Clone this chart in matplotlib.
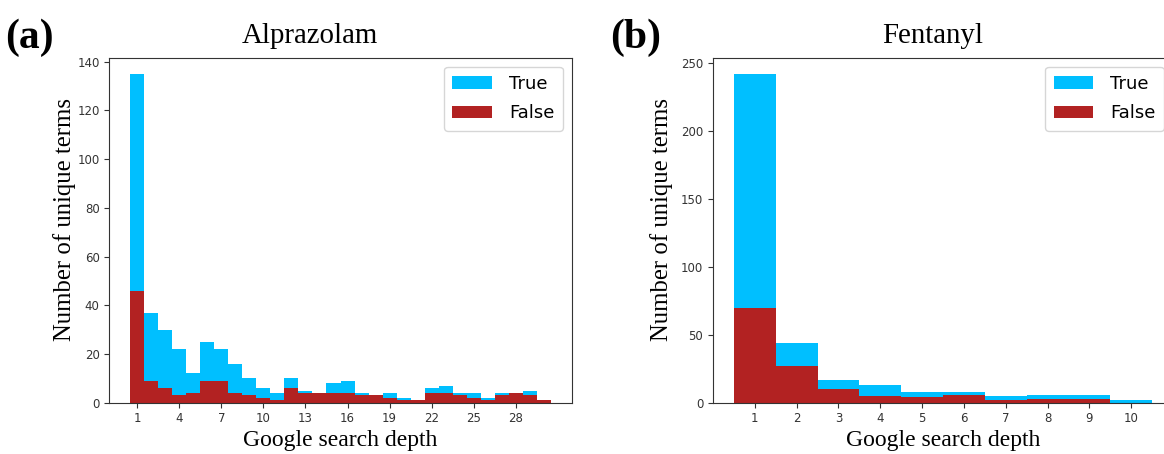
import matplotlib
matplotlib.use("Agg")
import matplotlib.pyplot as plt

# ---- data ----
alp_depth = list(range(1, 31))
alp_true = [135, 37, 30, 22, 12, 25, 22, 16, 10, 6, 4, 10, 5, 4, 8, 9, 4, 3, 4, 2,
            1, 6, 7, 4, 4, 2, 4, 4, 5, 1]
alp_false = [46, 9, 6, 3, 4, 9, 9, 4, 3, 2, 1, 6, 4, 4, 4, 4, 3, 3, 2, 1,
             1, 4, 4, 3, 2, 1, 3, 4, 3, 1]
alp_ticks = [1, 4, 7, 10, 13, 16, 19, 22, 25, 28]

fen_depth = list(range(1, 11))
fen_true = [242, 44, 17, 13, 8, 8, 5, 6, 6, 2]
fen_false = [70, 27, 10, 5, 4, 6, 2, 3, 3, 0]
fen_ticks = list(range(1, 11))

titles = ["Alprazolam", "Fentanyl"]
panel_labels = ["(a)", "(b)"]
xlabel = "Google search depth"
ylabel = "Number of unique terms"

BLUE = "#00BFFF"
RED = "#B22222"
SERIF = ["Liberation Serif", "DejaVu Serif"]

W, H = 1164, 454
fig = plt.figure(figsize=(W / 100, H / 100), dpi=100)

ax1 = fig.add_axes([109.3 / W, 51.3 / H, (571.7 - 109.3) / W, (402.7 - 57.5) / H])
ax2 = fig.add_axes([713 / W, 51.3 / H, (1173 - 713) / W, (402.7 - 57.5) / H])

for ax, d, t, f, ticks in [(ax1, alp_depth, alp_true, alp_false, alp_ticks),
                           (ax2, fen_depth, fen_true, fen_false, fen_ticks)]:
    ax.bar(d, t, width=1.0, color=BLUE, label="True", linewidth=0)
    ax.bar(d, f, width=1.0, color=RED, label="False", linewidth=0)
    ax.set_xticks(ticks)
    ax.tick_params(labelsize=8.5, colors="#333333", labelcolor="#333333")
    for s in ax.spines.values():
        s.set_color("#333333")
    ax.set_xlabel(xlabel, fontsize=17, family=SERIF, labelpad=3.5)
    ax.set_ylabel(ylabel, fontsize=17.8, family=SERIF, labelpad=6)
    ax.yaxis.set_label_coords(-0.072 if ax is ax1 else -0.086, 0.53)
    ax.legend(loc="upper right", fontsize=13, handlelength=2.2,
              borderpad=0.45, labelspacing=0.65, handletextpad=0.95)

# titles and panel labels
fig.text(310 / W, 1 - 43 / H, titles[0], ha="center", va="baseline",
         fontsize=20.8, family=SERIF)
fig.text(933 / W, 1 - 43 / H, titles[1], ha="center", va="baseline",
         fontsize=20.8, family=SERIF)
fig.text(5 / W, 1 - 48 / H, panel_labels[0], ha="left", va="baseline",
         fontsize=30, family=SERIF, fontweight="bold")
fig.text(610 / W, 1 - 48 / H, panel_labels[1], ha="left", va="baseline",
         fontsize=30, family=SERIF, fontweight="bold")

fig.savefig("out.png", dpi=100)
